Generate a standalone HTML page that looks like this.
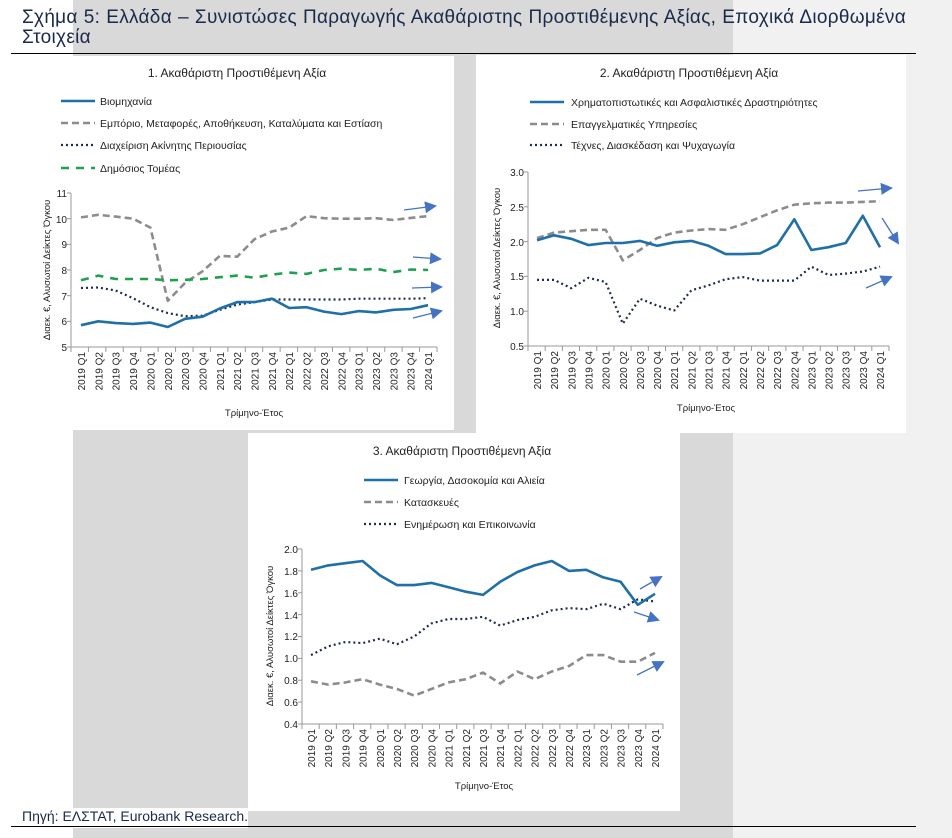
<!DOCTYPE html>
<html><head><meta charset="utf-8"><style>
body{margin:0;width:952px;height:838px;position:relative;background:#fff;overflow:hidden;font-family:"Liberation Sans","DejaVu Sans",sans-serif}
.abs{position:absolute}
</style></head><body>
<div class="abs" style="left:73px;top:0;width:660px;height:838px;background:#d9d9d9"></div>
<div class="abs" style="left:733px;top:0;width:219px;height:838px;background:#f1f1f1"></div>
<div class="abs" style="left:22px;top:56px;width:432px;height:374px;background:#fff"></div>
<div class="abs" style="left:476px;top:55px;width:430px;height:378px;background:#fff"></div>
<div class="abs" style="left:248px;top:433px;width:432px;height:378px;background:#fff"></div>
<div class="abs" style="left:0;top:808px;width:248px;height:20px;background:#fff"></div>
<div class="abs" style="left:22px;top:8px;width:884px;font-size:19px;letter-spacing:0.3px;line-height:20px;color:#1a2a4a;text-align:justify;text-align-last:justify">Σχήμα 5: Ελλάδα – Συνιστώσες Παραγωγής Ακαθάριστης Προστιθέμενης Αξίας, Εποχικά Διορθωμένα</div>
<div class="abs" style="left:22px;top:28px;font-size:19px;letter-spacing:0.3px;line-height:20px;color:#1a2a4a">Στοιχεία</div>
<div class="abs" style="left:11px;top:53px;width:905px;height:1px;background:#000"></div>
<div class="abs" style="left:22px;top:808px;font-size:14px;color:#1a2a4a">Πηγή: ΕΛΣΤΑΤ, Eurobank Research.</div>
<div class="abs" style="left:11px;top:826px;width:905px;height:1px;background:#000"></div>
<svg class="abs" style="left:0;top:0" width="952" height="838" font-family="Liberation Sans, DejaVu Sans, sans-serif" fill="#222">
<defs><marker id="ar" markerWidth="14" markerHeight="12" refX="10" refY="6" orient="auto" markerUnits="userSpaceOnUse"><path d="M0,0 L12,6 L0,12 z" fill="#4472c4"/></marker></defs>
<g id="g"></g>
<text x="237" y="77" font-size="12" text-anchor="middle">1. Ακαθάριστη Προστιθέμενη Αξία</text>
<text x="689" y="77" font-size="12" text-anchor="middle">2. Ακαθάριστη Προστιθέμενη Αξία</text>
<text x="462" y="455" font-size="12" text-anchor="middle">3. Ακαθάριστη Προστιθέμενη Αξία</text>
<g font-size="10.5">
<text x="100" y="105">Βιομηχανία</text>
<text x="100" y="127">Εμπόριο, Μεταφορές, Αποθήκευση, Καταλύματα και Εστίαση</text>
<text x="100" y="149">Διαχείριση Ακίνητης Περιουσίας</text>
<text x="100" y="172">Δημόσιος Τομέας</text>
<text x="571" y="106">Χρηματοπιστωτικές και Ασφαλιστικές Δραστηριότητες</text>
<text x="571" y="128">Επαγγελματικές Υπηρεσίες</text>
<text x="571" y="149">Τέχνες, Διασκέδαση και Ψυχαγωγία</text>
<text x="404" y="484">Γεωργία, Δασοκομία και Αλιεία</text>
<text x="404" y="506">Κατασκευές</text>
<text x="404" y="528">Ενημέρωση και Επικοινωνία</text>
</g>
<g font-size="9.5">
<text x="254" y="416" text-anchor="middle">Τρίμηνο-Έτος</text>
<text x="706" y="411" text-anchor="middle">Τρίμηνο-Έτος</text>
<text x="484" y="789" text-anchor="middle">Τρίμηνο-Έτος</text>
<text transform="translate(50,270) rotate(-90)" text-anchor="middle">Διαεκ. €, Αλυσωτοί Δείκτες Όγκου</text>
<text transform="translate(500,258) rotate(-90)" text-anchor="middle">Διαεκ. €, Αλυσωτοί Δείκτες Όγκου</text>
<text transform="translate(273,636) rotate(-90)" text-anchor="middle">Διαεκ. €, Αλυσωτοί Δείκτες Όγκου</text>
</g>
<g font-size="10" text-anchor="end">
<text x="67" y="197">11</text><text x="67" y="223">10</text><text x="67" y="248">9</text><text x="67" y="274">8</text><text x="67" y="300">7</text><text x="67" y="325">6</text><text x="67" y="351">5</text>
<text x="524" y="176">3.0</text><text x="524" y="211">2.5</text><text x="524" y="246">2.0</text><text x="524" y="280">1.5</text><text x="524" y="315">1.0</text><text x="524" y="350">0.5</text>
<text x="298" y="553">2.0</text><text x="298" y="575">1.8</text><text x="298" y="597">1.6</text><text x="298" y="619">1.4</text><text x="298" y="640">1.2</text><text x="298" y="662">1.0</text><text x="298" y="684">0.8</text><text x="298" y="706">0.6</text><text x="298" y="728">0.4</text>
</g>
<g font-size="10" text-anchor="end">
<text transform="translate(85,352) rotate(-90)">2019 Q1</text><text transform="translate(102.4,352) rotate(-90)">2019 Q2</text><text transform="translate(119.7,352) rotate(-90)">2019 Q3</text><text transform="translate(137,352) rotate(-90)">2019 Q4</text><text transform="translate(154.4,352) rotate(-90)">2020 Q1</text><text transform="translate(171.8,352) rotate(-90)">2020 Q2</text><text transform="translate(189.1,352) rotate(-90)">2020 Q3</text><text transform="translate(206.5,352) rotate(-90)">2020 Q4</text><text transform="translate(223.8,352) rotate(-90)">2021 Q1</text><text transform="translate(241.2,352) rotate(-90)">2021 Q2</text><text transform="translate(258.5,352) rotate(-90)">2021 Q3</text><text transform="translate(275.9,352) rotate(-90)">2021 Q4</text><text transform="translate(293.2,352) rotate(-90)">2022 Q1</text><text transform="translate(310.6,352) rotate(-90)">2022 Q2</text><text transform="translate(327.9,352) rotate(-90)">2022 Q3</text><text transform="translate(345.3,352) rotate(-90)">2022 Q4</text><text transform="translate(362.6,352) rotate(-90)">2023 Q1</text><text transform="translate(380,352) rotate(-90)">2023 Q2</text><text transform="translate(397.3,352) rotate(-90)">2023 Q3</text><text transform="translate(414.7,352) rotate(-90)">2023 Q4</text><text transform="translate(432,352) rotate(-90)">2024 Q1</text>
</g>
<g font-size="10" text-anchor="end">
<text transform="translate(541,351) rotate(-90)">2019 Q1</text><text transform="translate(558.2,351) rotate(-90)">2019 Q2</text><text transform="translate(575.3,351) rotate(-90)">2019 Q3</text><text transform="translate(592.5,351) rotate(-90)">2019 Q4</text><text transform="translate(609.6,351) rotate(-90)">2020 Q1</text><text transform="translate(626.8,351) rotate(-90)">2020 Q2</text><text transform="translate(643.9,351) rotate(-90)">2020 Q3</text><text transform="translate(661.1,351) rotate(-90)">2020 Q4</text><text transform="translate(678.2,351) rotate(-90)">2021 Q1</text><text transform="translate(695.4,351) rotate(-90)">2021 Q2</text><text transform="translate(712.5,351) rotate(-90)">2021 Q3</text><text transform="translate(729.7,351) rotate(-90)">2021 Q4</text><text transform="translate(746.8,351) rotate(-90)">2022 Q1</text><text transform="translate(764,351) rotate(-90)">2022 Q2</text><text transform="translate(781.1,351) rotate(-90)">2022 Q3</text><text transform="translate(798.3,351) rotate(-90)">2022 Q4</text><text transform="translate(815.4,351) rotate(-90)">2023 Q1</text><text transform="translate(832.6,351) rotate(-90)">2023 Q2</text><text transform="translate(849.7,351) rotate(-90)">2023 Q3</text><text transform="translate(866.9,351) rotate(-90)">2023 Q4</text><text transform="translate(884,351) rotate(-90)">2024 Q1</text>
</g>
<g font-size="10" text-anchor="end">
<text transform="translate(315,729) rotate(-90)">2019 Q1</text><text transform="translate(332.2,729) rotate(-90)">2019 Q2</text><text transform="translate(349.4,729) rotate(-90)">2019 Q3</text><text transform="translate(366.6,729) rotate(-90)">2019 Q4</text><text transform="translate(383.8,729) rotate(-90)">2020 Q1</text><text transform="translate(401,729) rotate(-90)">2020 Q2</text><text transform="translate(418.2,729) rotate(-90)">2020 Q3</text><text transform="translate(435.4,729) rotate(-90)">2020 Q4</text><text transform="translate(452.6,729) rotate(-90)">2021 Q1</text><text transform="translate(469.8,729) rotate(-90)">2021 Q2</text><text transform="translate(487,729) rotate(-90)">2021 Q3</text><text transform="translate(504.2,729) rotate(-90)">2021 Q4</text><text transform="translate(521.4,729) rotate(-90)">2022 Q1</text><text transform="translate(538.6,729) rotate(-90)">2022 Q2</text><text transform="translate(555.8,729) rotate(-90)">2022 Q3</text><text transform="translate(573,729) rotate(-90)">2022 Q4</text><text transform="translate(590.2,729) rotate(-90)">2023 Q1</text><text transform="translate(607.4,729) rotate(-90)">2023 Q2</text><text transform="translate(624.6,729) rotate(-90)">2023 Q3</text><text transform="translate(641.8,729) rotate(-90)">2023 Q4</text><text transform="translate(659,729) rotate(-90)">2024 Q1</text>
</g>
</svg>
<script>
const g=document.getElementById('g');const NS='http://www.w3.org/2000/svg';
function el(t,a){const e=document.createElementNS(NS,t);for(const k in a)e.setAttribute(k,a[k]);g.appendChild(e);return e;}
const ST={s:{stroke:'#1f6fa8','stroke-width':2.6},d:{stroke:'#8c8c8c','stroke-width':2.6,'stroke-dasharray':'7 4'},o:{stroke:'#1f2d4d','stroke-width':2.2,'stroke-dasharray':'2 3'},g:{stroke:'#1fa050','stroke-width':2.6,'stroke-dasharray':'8 7'}};
function panel(P){
 const {L,T,R,B,ymin,ymax,ystep,x0,dx}=P;
 el('line',{x1:L,y1:T,x2:L,y2:B,stroke:'#999'});el('line',{x1:L,y1:B,x2:R,y2:B,stroke:'#999'});
 for(let v=ymin;v<=ymax+1e-9;v+=ystep){const y=B-(v-ymin)/(ymax-ymin)*(B-T);el('line',{x1:L-4,y1:y,x2:L,y2:y,stroke:'#999'});}
 const cw=(R-L)/21;for(let i=0;i<=21;i++){const x=L+i*cw;el('line',{x1:x,y1:B,x2:x,y2:B+5,stroke:'#999'});}
 P.series.forEach(([st,d])=>{const pts=d.map((v,i)=>(x0+i*dx).toFixed(1)+','+(B-(v-ymin)/(ymax-ymin)*(B-T)).toFixed(1)).join(' ');el('polyline',Object.assign({points:pts,fill:'none','stroke-linejoin':'round'},ST[st]));});
 P.leg.forEach(([st,y])=>el('line',Object.assign({x1:P.lx,y1:y,x2:P.lx+34,y2:y},ST[st])));
 P.arr.forEach(a=>el('line',{x1:a[0],y1:a[1],x2:a[2],y2:a[3],stroke:'#4472c4','stroke-width':1.3,'marker-end':'url(#ar)'}));
}
panel({L:71,T:193,R:437,B:347,ymin:5,ymax:11,ystep:1,x0:81,dx:17.35,lx:61,
 leg:[['s',101],['d',123],['o',145],['g',168]],
 arr:[[404,210,435,206],[413,257,440,259],[412,288,441,287],[413,318,441,311]],
 series:[['d',[10.05,10.15,10.08,10.0,9.65,6.8,7.5,7.95,8.55,8.52,9.2,9.5,9.65,10.1,10.02,10.0,10.0,10.02,9.95,10.03,10.1]],
 ['g',[7.6,7.78,7.65,7.65,7.65,7.6,7.62,7.65,7.72,7.78,7.7,7.82,7.9,7.85,8.0,8.05,8.0,8.05,7.92,8.02,8.0]],
 ['o',[7.3,7.32,7.2,6.9,6.55,6.32,6.2,6.22,6.45,6.65,6.75,6.85,6.85,6.85,6.85,6.85,6.88,6.88,6.88,6.88,6.9]],
 ['s',[5.85,6.0,5.93,5.9,5.95,5.78,6.1,6.18,6.5,6.75,6.75,6.88,6.52,6.55,6.38,6.28,6.4,6.35,6.45,6.48,6.63]]]});
panel({L:528,T:172,R:889,B:346,ymin:0.5,ymax:3.0,ystep:0.5,x0:537,dx:17.15,lx:530,
 leg:[['s',102],['d',124],['o',145]],
 arr:[[858,191,891,188],[882,218,898,243],[866,288,891,277]],
 series:[['d',[2.05,2.13,2.15,2.17,2.17,1.73,1.88,2.05,2.13,2.16,2.18,2.17,2.25,2.35,2.45,2.53,2.55,2.56,2.56,2.57,2.58]],
 ['o',[1.45,1.45,1.33,1.48,1.42,0.82,1.18,1.08,1.01,1.30,1.37,1.46,1.49,1.44,1.44,1.44,1.64,1.52,1.54,1.57,1.64]],
 ['s',[2.02,2.09,2.04,1.95,1.98,1.98,2.01,1.94,1.99,2.01,1.94,1.82,1.82,1.83,1.95,2.32,1.88,1.92,1.98,2.37,1.92]]]});
panel({L:302,T:549,R:663,B:724,ymin:0.4,ymax:2.0,ystep:0.2,x0:311,dx:17.2,lx:364,
 leg:[['s',480],['d',502],['o',524]],
 arr:[[640,589,661,577],[634,612,658,620],[637,675,663,662]],
 series:[['d',[0.79,0.76,0.78,0.81,0.76,0.72,0.66,0.72,0.78,0.81,0.87,0.77,0.88,0.81,0.88,0.93,1.03,1.03,0.97,0.97,1.05]],
 ['o',[1.03,1.11,1.15,1.14,1.18,1.13,1.20,1.32,1.36,1.36,1.38,1.30,1.35,1.38,1.44,1.46,1.45,1.50,1.45,1.54,1.52]],
 ['s',[1.81,1.85,1.87,1.89,1.76,1.67,1.67,1.69,1.65,1.61,1.58,1.70,1.79,1.85,1.89,1.80,1.81,1.74,1.70,1.49,1.59]]]});
</script>
</body></html>
